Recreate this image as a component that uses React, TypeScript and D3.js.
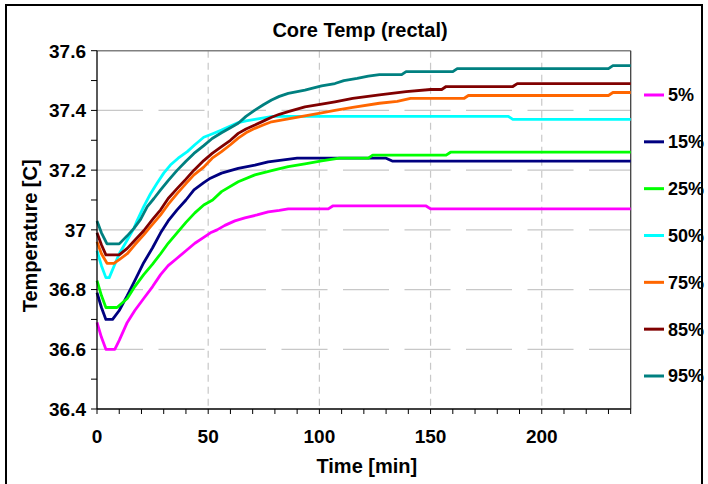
import React from "react";
import * as d3 from "d3";

const seriesNames = ["5%", "15%", "25%", "50%", "75%", "85%", "95%"];
const seriesColors = ["#FF00FF", "#000080", "#00FF00", "#00FFFF", "#FF6600", "#800000", "#008080"];

const p5: [number, number][] = [
  [0, 36.69], [2, 36.64], [4, 36.6], [8, 36.6], [10, 36.63], [13.6, 36.69], [17, 36.73], [21, 36.77],
  [25, 36.81], [28.6, 36.85], [32, 36.88], [36, 36.905], [40, 36.93], [44, 36.955], [48, 36.975],
  [51, 36.99], [54, 37.0], [57.5, 37.015], [62, 37.03], [66.5, 37.04], [72, 37.05], [77, 37.06],
  [82, 37.065], [86, 37.07], [104, 37.07], [106, 37.08], [148, 37.08], [150, 37.07], [240, 37.07],
];
const p15: [number, number][] = [
  [0, 36.79], [2, 36.74], [4, 36.7], [7, 36.7], [10, 36.73], [13.6, 36.78], [17, 36.83], [21, 36.89],
  [25, 36.94], [28.6, 36.99], [32, 37.03], [36, 37.067], [40, 37.1], [43.6, 37.134], [48, 37.158],
  [51, 37.173], [56, 37.19], [63.5, 37.206], [71, 37.217], [77, 37.228], [90, 37.24], [130, 37.24],
  [133, 37.23], [240, 37.23],
];
const p25: [number, number][] = [
  [0, 36.83], [2, 36.78], [4, 36.74], [9, 36.74], [13.6, 36.77], [17, 36.81], [21, 36.85], [25, 36.885],
  [28.6, 36.92], [32, 36.955], [36, 36.99], [40, 37.025], [44, 37.057], [48, 37.083], [52, 37.1],
  [56, 37.128], [63.5, 37.161], [71, 37.184], [78.5, 37.198], [86, 37.212], [93.5, 37.221],
  [101, 37.231], [109, 37.24], [122, 37.24], [124, 37.25], [157, 37.25], [159, 37.26], [240, 37.26],
];
const p50: [number, number][] = [
  [0, 36.93], [2, 36.88], [4, 36.84], [5.5, 36.84], [7.6, 36.877], [10, 36.92], [13.6, 36.966],
  [16.6, 37.005], [18, 37.03], [21, 37.078], [24, 37.12], [27, 37.156], [30, 37.19], [33, 37.217],
  [36.5, 37.24], [40.6, 37.262], [44, 37.285], [48, 37.31], [52, 37.322], [56, 37.334], [60, 37.348],
  [63.5, 37.359], [67, 37.365], [71, 37.37], [79, 37.38], [185, 37.38], [187, 37.37], [240, 37.37],
];
const p75: [number, number][] = [
  [0, 36.96], [2, 36.92], [4.5, 36.888], [7.6, 36.888], [10, 36.9], [13.6, 36.92], [17, 36.95],
  [21, 36.983], [24, 37.01], [28.6, 37.05], [32, 37.085], [36.1, 37.122], [40, 37.155], [43.6, 37.184],
  [48, 37.21], [51.8, 37.24], [56, 37.262], [60, 37.285], [63.5, 37.307], [67, 37.325], [71, 37.34],
  [75, 37.352], [78.5, 37.362], [86, 37.372], [93.5, 37.382], [101, 37.392], [107, 37.4], [115, 37.41],
  [127, 37.424], [135, 37.43], [141, 37.44], [165, 37.44], [167, 37.45], [230, 37.45], [232, 37.46],
  [240, 37.46],
];
const p85: [number, number][] = [
  [0, 36.99], [2, 36.95], [4, 36.916], [10, 36.916], [13.6, 36.938], [17, 36.965], [21, 36.997],
  [25, 37.035], [28.6, 37.067], [32, 37.105], [36.1, 37.139], [40, 37.17], [43.6, 37.2], [48, 37.232],
  [51.8, 37.256], [56, 37.279], [60, 37.3], [63.5, 37.323], [67, 37.338], [71, 37.351], [75, 37.365],
  [78.5, 37.377], [82, 37.387], [86, 37.396], [93.5, 37.412], [101, 37.421], [107, 37.429], [115, 37.44],
  [127, 37.452], [139, 37.463], [150, 37.47], [155, 37.47], [157, 37.48], [187, 37.48], [189, 37.49],
  [240, 37.49],
];
const p95: [number, number][] = [
  [0, 37.03], [2, 36.99], [4.5, 36.953], [10, 36.953], [13.6, 36.98], [16.6, 37.005], [19.6, 37.035],
  [22.6, 37.078], [25.6, 37.105], [28.6, 37.134], [32, 37.165], [36.1, 37.2], [40, 37.23], [43.6, 37.256],
  [48, 37.282], [51.8, 37.306], [56, 37.325], [60, 37.342], [63.5, 37.357], [67, 37.38], [71, 37.401],
  [75, 37.42], [78.5, 37.435], [82, 37.447], [86, 37.457], [93.5, 37.468], [101, 37.482], [107, 37.49],
  [111, 37.5], [117, 37.507], [122, 37.515], [127, 37.52], [137, 37.52], [139, 37.53], [160, 37.53],
  [162, 37.54], [230, 37.54], [232, 37.55], [240, 37.55],
];
const seriesData = [p5, p15, p25, p50, p75, p85, p95];

const xMajorTicks = [0, 50, 100, 150, 200];
const yMajorTicks = [36.4, 36.6, 36.8, 37, 37.2, 37.4, 37.6];

const W = 708;
const H = 484;
const L = 97, R = 630.7, T = 50.7, B = 409;
const FONT = "'Liberation Sans', Arial, sans-serif";

export default function App() {
  const x = d3.scaleLinear().domain([0, 240]).range([L, R]);
  const y = d3.scaleLinear().domain([36.4, 37.6]).range([B, T]);
  const line = d3.line<[number, number]>().x((d) => x(d[0])).y((d) => y(d[1]));
  const xMinor = d3.range(0, 241, 10);
  const yMinor = d3.range(0, 13).map((i) => 36.4 + i * 0.1);
  const legendY = d3.scalePoint<string>().domain(seriesNames).range([95, 376]);

  return (
    <svg width={W} height={H} style={{ position: "absolute", left: 0, top: 0, background: "#fff" }}
      fontFamily={FONT}>
      <rect x={0} y={0} width={W} height={H} fill="#fff" />
      <rect x={6} y={5} width={696} height={500} fill="none" stroke="#000" strokeWidth={2} />
      {/* horizontal gridlines */}
      {yMajorTicks.filter((v) => v > 36.41 && v < 37.59).map((v) => (
        <line key={"hg" + v} x1={L} x2={R} y1={y(v)} y2={y(v)} stroke="#c8c8c8" strokeWidth={1.2}
          strokeDasharray="46,15.5" />
      ))}
      {/* vertical gridlines */}
      {xMajorTicks.filter((v) => v > 0).map((v) => (
        <line key={"vg" + v} x1={x(v)} x2={x(v)} y1={T} y2={B} stroke="#c8c8c8" strokeWidth={1.2}
          strokeDasharray="7,5" />
      ))}
      {/* plot border top/right */}
      <line x1={L} x2={R} y1={T} y2={T} stroke="#808080" strokeWidth={1.6} />
      <line x1={R} x2={R} y1={T} y2={B} stroke="#404040" strokeWidth={1.3} />
      {/* series */}
      {seriesData.map((d, i) => (
        <path key={seriesNames[i]} d={line(d) || ""} fill="none" stroke={seriesColors[i]} strokeWidth={2.8}
          strokeLinejoin="round" />
      ))}
      {/* axes */}
      <line x1={L} x2={L} y1={T} y2={B} stroke="#000" strokeWidth={1.3} />
      <line x1={L} x2={R} y1={B} y2={B} stroke="#000" strokeWidth={1.3} />
      {yMinor.map((v, i) => (
        <line key={"yt" + i} x1={L - 6} x2={L} y1={y(v)} y2={y(v)} stroke="#000" strokeWidth={1} />
      ))}
      {xMinor.map((v) => (
        <line key={"xt" + v} x1={x(v)} x2={x(v)} y1={B} y2={B + 5} stroke="#000" strokeWidth={1} />
      ))}
      {yMajorTicks.map((v) => (
        <text key={"yl" + v} x={L - 11} y={y(v)} dy="0.36em" textAnchor="end" fontSize={19} fontWeight="bold">
          {d3.format("")(+v.toFixed(1))}
        </text>
      ))}
      {xMajorTicks.map((v) => (
        <text key={"xl" + v} x={x(v)} y={B + 34} textAnchor="middle" fontSize={19} fontWeight="bold">
          {v}
        </text>
      ))}
      <text x={360} y={37} textAnchor="middle" fontSize={20} fontWeight="bold">Core Temp (rectal)</text>
      <text x={(L + R) / 2 + 3} y={473} textAnchor="middle" fontSize={20} fontWeight="bold">Time [min]</text>
      <text transform={`translate(37, ${(T + B) / 2 + 6}) rotate(-90)`} textAnchor="middle" fontSize={20}
        fontWeight="bold">Temperature [C]</text>
      {/* legend */}
      {seriesNames.map((n, i) => (
        <g key={"lg" + n} transform={`translate(0, ${legendY(n)})`}>
          <line x1={644} x2={664} y1={0} y2={0} stroke={seriesColors[i]} strokeWidth={3} />
          <text x={668} y={0} dy="0.36em" fontSize={18} fontWeight="bold">{n}</text>
        </g>
      ))}
    </svg>
  );
}
